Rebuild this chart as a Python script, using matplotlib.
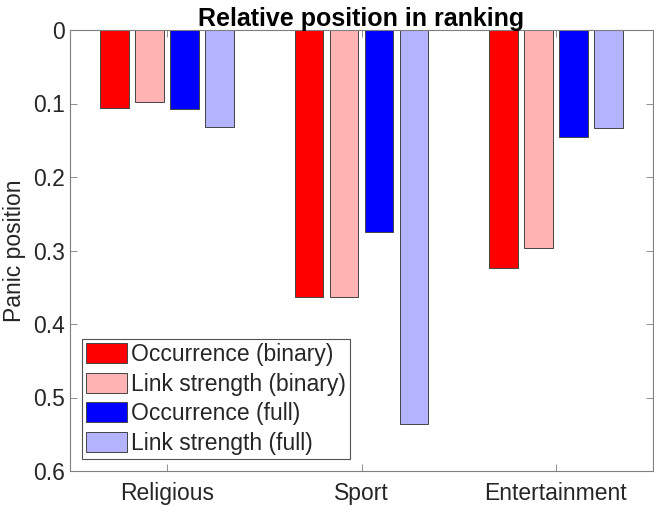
import matplotlib.pyplot as plt
import numpy as np

# ─── données ────────────────────────────────────────────────────────────────
categories = ["Religious", "Sport", "Entertainment"]
series_names = ["Occurrence (binary)", "Link strength (binary)",
                "Occurrence (full)", "Link strength (full)"]
occ_binary = [0.106, 0.363, 0.324]
link_binary = [0.098, 0.363, 0.297]
occ_full = [0.108, 0.275, 0.146]
link_full = [0.132, 0.536, 0.133]
series_colors = ["#ff0000", "#ffb3b3", "#0000ff", "#b3b3ff"]

yticks = [0, 0.1, 0.2, 0.3, 0.4, 0.5, 0.6]
ytick_labels = ["0", "0.1", "0.2", "0.3", "0.4", "0.5", "0.6"]

plt.rcParams["font.family"] = ["Liberation Sans", "DejaVu Sans"]
TXT = "#262626"
FS = 16.5

fig = plt.figure(figsize=(6.54, 5.07), dpi=100)
ax = fig.add_axes([70 / 654, 36 / 507, 583 / 654, 441 / 507])

x = np.arange(1, len(categories) + 1)
step = 0.18
width = 0.147
for i, (vals, name, col) in enumerate(zip(
        [occ_binary, link_binary, occ_full, link_full], series_names, series_colors)):
    ax.bar(x + (i - 1.5) * step, vals, width=width, color=col,
           edgecolor="#444444", linewidth=0.7, label=name)

ax.set_xlim(0.5, 3.5)
ax.set_ylim(0.6, 0)
ax.set_xticks(x)
ax.set_xticklabels(categories)
ax.set_yticks(yticks)
ax.set_yticklabels(ytick_labels)
ax.tick_params(axis="both", direction="in", labelsize=FS, colors="#7f7f7f",
               labelcolor=TXT, top=True, right=True, length=5, width=0.6)
ax.tick_params(axis="x", pad=8)
for s in ax.spines.values():
    s.set_color("#7f7f7f")
    s.set_linewidth(0.8)

ax.set_ylabel("Panic position", fontsize=FS, color=TXT, labelpad=5)
ax.set_title("Relative position in ranking", fontsize=18, fontweight="bold",
             color="black", pad=3)

leg = ax.legend(loc="lower left", bbox_to_anchor=(0.02, 0.027), borderaxespad=0,
                fontsize=FS, frameon=True, fancybox=False, handlelength=1.8,
                handleheight=0.95, labelspacing=0.28, handletextpad=0.15,
                borderpad=0.2)
leg.get_frame().set_edgecolor("#262626")
leg.get_frame().set_linewidth(0.8)
for t in leg.get_texts():
    t.set_color(TXT)

plt.savefig("out.png", dpi=100)
